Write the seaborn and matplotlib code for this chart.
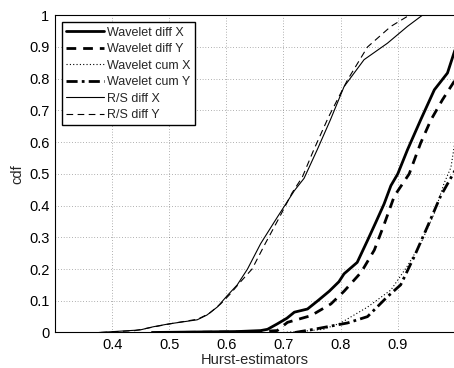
import matplotlib
matplotlib.use("Agg")
import matplotlib.pyplot as plt
import seaborn as sns
import pandas as pd

# Data (x = Hurst estimate, cdf = cumulative fraction)
wav_diff_x_x = [0.47, 0.62, 0.66, 0.672, 0.689, 0.706, 0.719, 0.742, 0.760, 0.78, 0.797, 0.806, 0.829, 0.847, 0.861, 0.876, 0.888, 0.90, 0.917, 0.940, 0.964, 0.987, 1.0]
wav_diff_x_c = [0.0, 0.003, 0.006, 0.01, 0.027, 0.045, 0.064, 0.074, 0.10, 0.13, 0.16, 0.185, 0.221, 0.29, 0.345, 0.405, 0.463, 0.50, 0.576, 0.67, 0.765, 0.818, 0.89]

wav_diff_y_x = [0.5, 0.65, 0.689, 0.707, 0.748, 0.783, 0.806, 0.836, 0.859, 0.876, 0.894, 0.920, 0.940, 0.958, 0.978, 1.0]
wav_diff_y_c = [0.0, 0.002, 0.006, 0.032, 0.053, 0.09, 0.13, 0.19, 0.26, 0.34, 0.43, 0.50, 0.597, 0.67, 0.733, 0.795]

wav_cum_x_x = [0.70, 0.74, 0.77, 0.80, 0.847, 0.888, 0.917, 0.940, 0.964, 0.981, 0.993, 1.0]
wav_cum_x_c = [0.0, 0.005, 0.01, 0.03, 0.08, 0.134, 0.21, 0.28, 0.376, 0.47, 0.52, 0.60]

wav_cum_y_x = [0.72, 0.753, 0.812, 0.847, 0.882, 0.905, 0.929, 0.952, 0.975, 1.0]
wav_cum_y_c = [0.0, 0.01, 0.03, 0.05, 0.113, 0.15, 0.24, 0.334, 0.43, 0.51]

rs_diff_x_x = [0.377, 0.449, 0.472, 0.499, 0.549, 0.566, 0.584, 0.602, 0.619, 0.637, 0.66, 0.689, 0.719, 0.736, 0.759, 0.782, 0.806, 0.841, 0.882, 0.917, 0.943]
rs_diff_x_c = [0.0, 0.008, 0.018, 0.027, 0.04, 0.055, 0.08, 0.117, 0.15, 0.2, 0.28, 0.363, 0.447, 0.486, 0.576, 0.67, 0.775, 0.86, 0.912, 0.965, 1.0]

rs_diff_y_x = [0.38, 0.44, 0.48, 0.51, 0.55, 0.57, 0.59, 0.606, 0.625, 0.645, 0.668, 0.692, 0.715, 0.733, 0.753, 0.779, 0.812, 0.847, 0.888, 0.92]
rs_diff_y_c = [0.0, 0.006, 0.02, 0.03, 0.042, 0.06, 0.09, 0.12, 0.16, 0.2, 0.28, 0.36, 0.44, 0.49, 0.576, 0.68, 0.796, 0.90, 0.965, 1.0]

labels = ["Wavelet diff X", "Wavelet diff Y", "Wavelet cum X", "Wavelet cum Y", "R/S diff X", "R/S diff Y"]
xs = [wav_diff_x_x, wav_diff_y_x, wav_cum_x_x, wav_cum_y_x, rs_diff_x_x, rs_diff_y_x]
cs = [wav_diff_x_c, wav_diff_y_c, wav_cum_x_c, wav_cum_y_c, rs_diff_x_c, rs_diff_y_c]
styles = [("-", 2.0), ((0, (3.5, 2.5)), 2.0), ((0, (1, 2)), 0.8), ((0, (4, 1.5, 1, 1.5)), 2.0), ("-", 0.8), ((0, (6, 4)), 0.8)]

x_ticks = [0.4, 0.5, 0.6, 0.7, 0.8, 0.9]
y_ticks = [0, 0.1, 0.2, 0.3, 0.4, 0.5, 0.6, 0.7, 0.8, 0.9, 1.0]
y_ticklabels = ["0", "0.1", "0.2", "0.3", "0.4", "0.5", "0.6", "0.7", "0.8", "0.9", "1"]

sns.set_style("white")
plt.rcParams["font.family"] = ["Liberation Sans", "DejaVu Sans"]

fig = plt.figure(figsize=(4.54, 3.68), dpi=100)
ax = fig.add_axes([0.121, 0.0965, 0.881, 0.862])

for lab, x, c, (ls, lw) in zip(labels, xs, cs, styles):
    df = pd.DataFrame({"x": x, "cdf": c})
    sns.lineplot(data=df, x="x", y="cdf", ax=ax, sort=False, estimator=None,
                 color="black", linestyle=ls, linewidth=lw, label=lab)

ax.set_xlim(0.3, 1.0)
ax.set_ylim(0, 1)
ax.set_xticks(x_ticks)
ax.set_xticklabels([str(t) for t in x_ticks])
ax.set_yticks(y_ticks)
ax.set_yticklabels(y_ticklabels)
ax.grid(True, color="black", linestyle=(0, (1, 3)), linewidth=0.5, alpha=0.6)
ax.tick_params(direction="in", length=3, labelsize=10.5, colors="black", width=0.6, pad=4)
for s in ax.spines.values():
    s.set_color("black")
    s.set_linewidth(0.8)
ax.set_xlabel("Hurst-estimators", fontsize=10.5, labelpad=1)
ax.set_ylabel("cdf", fontsize=10.5, labelpad=3)

leg = ax.legend(loc="upper left", fontsize=9, frameon=True, fancybox=False,
                edgecolor="black", handlelength=3.0, handletextpad=0.3,
                labelspacing=0.36, borderpad=0.35, borderaxespad=0.55)
leg.get_frame().set_linewidth(1.0)
leg.get_frame().set_alpha(1)

fig.savefig("out.png", dpi=100)
